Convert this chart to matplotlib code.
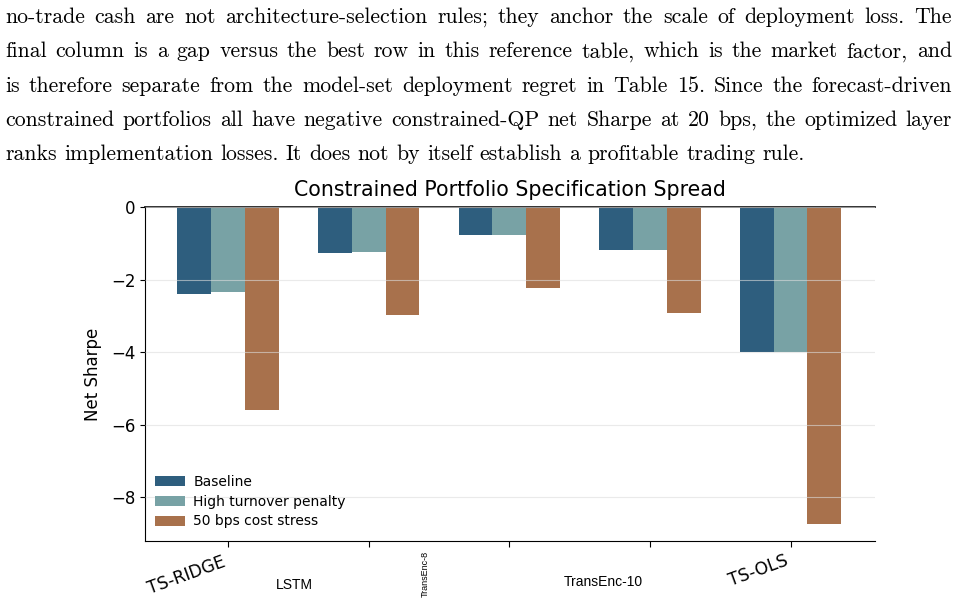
import numpy as np
import matplotlib
matplotlib.use("Agg")
import matplotlib.pyplot as plt
from matplotlib.transforms import ScaledTranslation, blended_transform_factory

# data
models = ["TS-RIDGE", "LSTM", "TransEnc-8", "TransEnc-10", "TS-OLS"]
baseline = [-2.40, -1.27, -0.77, -1.18, -4.00]
high_turnover = [-2.34, -1.24, -0.77, -1.18, -4.00]
cost_stress = [-5.59, -2.98, -2.23, -2.92, -8.73]
series_names = ["Baseline", "High turnover penalty", "50 bps cost stress"]
colors = ["#2e5e7e", "#78a2a5", "#a8714c"]

paragraph = [
    "no-trade cash are not architecture-selection rules; they anchor the scale of deployment loss.  The",
    "final column is a gap versus the best row in this reference table, which is the market factor, and",
    "is therefore separate from the model-set deployment regret in Table 15.  Since the forecast-driven",
    "constrained portfolios all have negative constrained-QP net Sharpe at 20 bps, the optimized layer",
    "ranks implementation losses. It does not by itself establish a profitable trading rule.",
]

fig = plt.figure(figsize=(9.58, 6.05), dpi=100)

# paragraph above the chart, justified like the paper
renderer = fig.canvas.get_renderer()
left_px, right_px = 5, 952
para_size = 15.7
for i, line in enumerate(paragraph):
    y = 1 - (23 + i * 34.3) / 605
    words = line.split()
    texts = [fig.text(0, y, w, family=["cmr10", "DejaVu Serif"], fontsize=para_size,
                      va="baseline", ha="left") for w in words]
    widths = [t.get_window_extent(renderer).width for t in texts]
    if i < len(paragraph) - 1:
        gap = (right_px - left_px - sum(widths)) / (len(words) - 1)
    else:
        gap = 0.333 * para_size * 100 / 72
    x = left_px
    for t, w in zip(texts, widths):
        t.set_x(x / 958)
        x += w + gap

ax = fig.add_axes([145 / 958, 1 - 541 / 605, 730 / 958, 334 / 605])

x = np.arange(len(models))
width = 0.24
for k, (vals, name, c) in enumerate(zip([baseline, high_turnover, cost_stress], series_names, colors)):
    ax.bar(x + (k - 1) * width, vals, width, color=c, label=name)

ax.set_xlim(-0.59, 4.6)
ax.set_ylim(-9.2, 0)
ax.set_yticks([0, -2, -4, -6, -8])
ax.tick_params(axis="y", labelsize=12)
ax.set_ylabel("Net Sharpe", fontsize=12, labelpad=6)
ax.grid(axis="y", color="#dddddd", linewidth=0.8, alpha=0.6)
ax.set_axisbelow(False)
ax.axhline(0, color="#222222", linewidth=1.3, clip_on=False)
ax.spines["top"].set_visible(False)
ax.spines["right"].set_visible(False)
ax.set_title("Constrained Portfolio Specification Spread", fontsize=14.8, pad=8)

ax.set_xticks(x)
ax.set_xticklabels([])
ax.tick_params(axis="x", length=4)

# individually styled category labels
label_style = [
    dict(rotation=20, fontsize=12.3, family="DejaVu Sans", dx=-41, y=575),
    dict(rotation=0, fontsize=10, family="Liberation Sans", dx=-74, y=585),
    dict(rotation=90, fontsize=6.5, family="Liberation Sans", dx=-84, y=574),
    dict(rotation=0, fontsize=10, family="Liberation Sans", dx=-47, y=582),
    dict(rotation=20, fontsize=12.3, family="DejaVu Sans", dx=-32, y=571),
]
trans = blended_transform_factory(ax.transData, ax.transAxes)
for i, (name, st) in enumerate(zip(models, label_style)):
    off = ScaledTranslation(st["dx"] / 100, 0, fig.dpi_scale_trans)
    ax.text(i, (541 - st["y"]) / 334, name, transform=trans + off,
            rotation=st["rotation"], fontsize=st["fontsize"], family=st["family"],
            ha="center", va="center", rotation_mode="anchor")

ax.legend(loc="lower left", frameon=False, fontsize=10, handlelength=2.2,
          handletextpad=0.6, labelspacing=0.42, bbox_to_anchor=(-0.004, 0.0))

fig.savefig("out.png", dpi=100)
